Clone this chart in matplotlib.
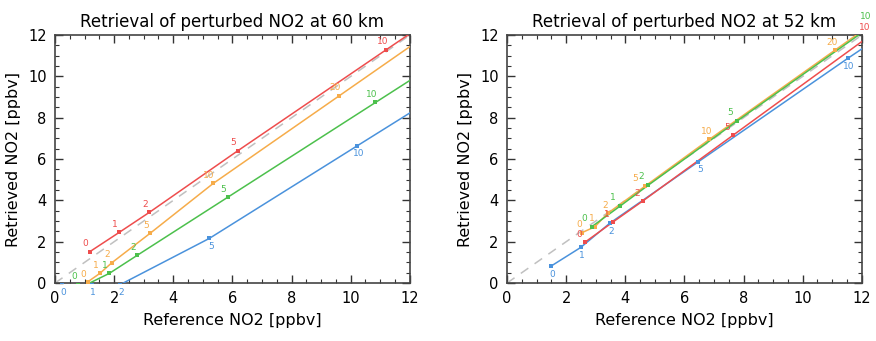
import matplotlib
matplotlib.use("Agg")
import matplotlib.pyplot as plt
from matplotlib.ticker import MultipleLocator

# ---- data (x = reference NO2, y = retrieved NO2) ----
# left panel: 60 km
l60_red_x = [1.18, 2.17, 3.19, 6.18, 11.21, 12.5]
l60_red_y = [1.52, 2.45, 3.42, 6.40, 11.30, 12.55]
l60_red_lab = ["0", "1", "2", "5", "10", ""]

l60_orange_x = [1.10, 1.52, 1.92, 3.21, 5.35, 9.61, 12.3]
l60_orange_y = [0.05, 0.47, 0.98, 2.40, 4.82, 9.06, 11.74]
l60_orange_lab = ["0", "1", "2", "5", "10", "20", ""]

l60_green_x = [0.79, 1.10, 1.84, 2.79, 5.84, 10.84, 12.3]
l60_green_y = [-0.08, -0.05, 0.47, 1.35, 4.15, 8.74, 10.08]
l60_green_lab = ["0", "", "1", "2", "5", "10", ""]

l60_blue_x = [0.23, 1.24, 2.20, 5.22, 10.22, 12.3]
l60_blue_y = [-0.08, -0.08, -0.08, 2.16, 6.64, 8.50]
l60_blue_lab = ["0", "1", "2", "5", "10", ""]

# right panel: 52 km
l52_red_x = [2.64, 3.58, 4.60, 7.65, 12.30]
l52_red_y = [1.98, 2.95, 3.98, 7.16, 12.00]
l52_red_lab = ["0", "1", "2", "5", "10"]

l52_orange_x = [2.52, 2.97, 3.40, 4.67, 6.84, 11.09, 12.3]
l52_orange_y = [2.43, 2.72, 3.37, 4.69, 6.95, 11.27, 12.50]
l52_orange_lab = ["0", "1", "2", "5", "10", "20", ""]

l52_green_x = [2.86, 3.82, 4.78, 7.79, 12.38]
l52_green_y = [2.72, 3.72, 4.74, 7.85, 12.50]
l52_green_lab = ["0", "1", "2", "5", "10"]

l52_blue_x = [1.49, 2.49, 3.48, 6.47, 11.52, 12.3]
l52_blue_y = [0.82, 1.72, 2.90, 5.87, 10.87, 11.62]
l52_blue_lab = ["0", "1", "2", "5", "10", ""]

one_to_one = [0, 12]

RED = "#ee4d4d"
ORANGE = "#f6ac4a"
GREEN = "#4cc04c"
BLUE = "#4a92dc"


def draw_series(ax, xs, ys, labs, color, off=(-3, 2.5), nudge=None):
    nudge = nudge or {}
    ax.plot(xs, ys, color=color, lw=1.1, zorder=3)
    mx = [x for x, l in zip(xs, labs) if l]
    my = [y for y, l in zip(ys, labs) if l]
    ax.plot(mx, my, "s", color=color, ms=3.5, zorder=4, markeredgewidth=0)
    for x, y, l in zip(xs, ys, labs):
        if not l:
            continue
        ax.annotate(l, (x, y), xytext=nudge.get(l, off),
                    textcoords="offset points",
                    color=color, fontsize=6.5, ha="center", va="bottom",
                    annotation_clip=False, zorder=5)


def style_axes(ax, title):
    ax.set_xlim(0, 12)
    ax.set_ylim(0, 12)
    ax.plot(one_to_one, one_to_one, color="#c0c0c0", lw=1.1,
            dashes=(6, 5), zorder=2)
    ax.xaxis.set_major_locator(MultipleLocator(2))
    ax.yaxis.set_major_locator(MultipleLocator(2))
    ax.xaxis.set_minor_locator(MultipleLocator(0.5))
    ax.yaxis.set_minor_locator(MultipleLocator(0.5))
    ax.tick_params(which="both", direction="in", top=True, right=True,
                   color="#333333")
    ax.tick_params(which="major", length=6, width=1, labelsize=10.5, pad=6)
    ax.tick_params(which="minor", length=3, width=0.8)
    for s in ax.spines.values():
        s.set_color("#444444")
        s.set_linewidth(1.2)
    ax.set_title(title, fontsize=12, pad=6)
    ax.set_xlabel("Reference NO2 [ppbv]", fontsize=11.5, labelpad=5)
    ax.set_ylabel("Retrieved NO2 [ppbv]", fontsize=11.5, labelpad=5)


fig = plt.figure(figsize=(8.76, 3.41), dpi=100)
ax1 = fig.add_axes([0.0628, 0.170, 0.405, 0.727])
ax2 = fig.add_axes([0.5788, 0.170, 0.405, 0.727])

style_axes(ax1, "Retrieval of perturbed NO2 at 60 km")
draw_series(ax1, l60_blue_x, l60_blue_y, l60_blue_lab, BLUE, off=(1, -9))
draw_series(ax1, l60_green_x, l60_green_y, l60_green_lab, GREEN)
draw_series(ax1, l60_orange_x, l60_orange_y, l60_orange_lab, ORANGE)
draw_series(ax1, l60_red_x, l60_red_y, l60_red_lab, RED)

style_axes(ax2, "Retrieval of perturbed NO2 at 52 km")
draw_series(ax2, l52_blue_x, l52_blue_y, l52_blue_lab, BLUE, off=(1, -9))
draw_series(ax2, l52_red_x, l52_red_y, l52_red_lab, RED, off=(-4, 2))
draw_series(ax2, l52_orange_x, l52_orange_y, l52_orange_lab, ORANGE,
            off=(-2, 2.5), nudge={"5": (-7, 2.5)})
draw_series(ax2, l52_green_x, l52_green_y, l52_green_lab, GREEN, off=(-5, 3))

fig.savefig("out.png", dpi=100)
